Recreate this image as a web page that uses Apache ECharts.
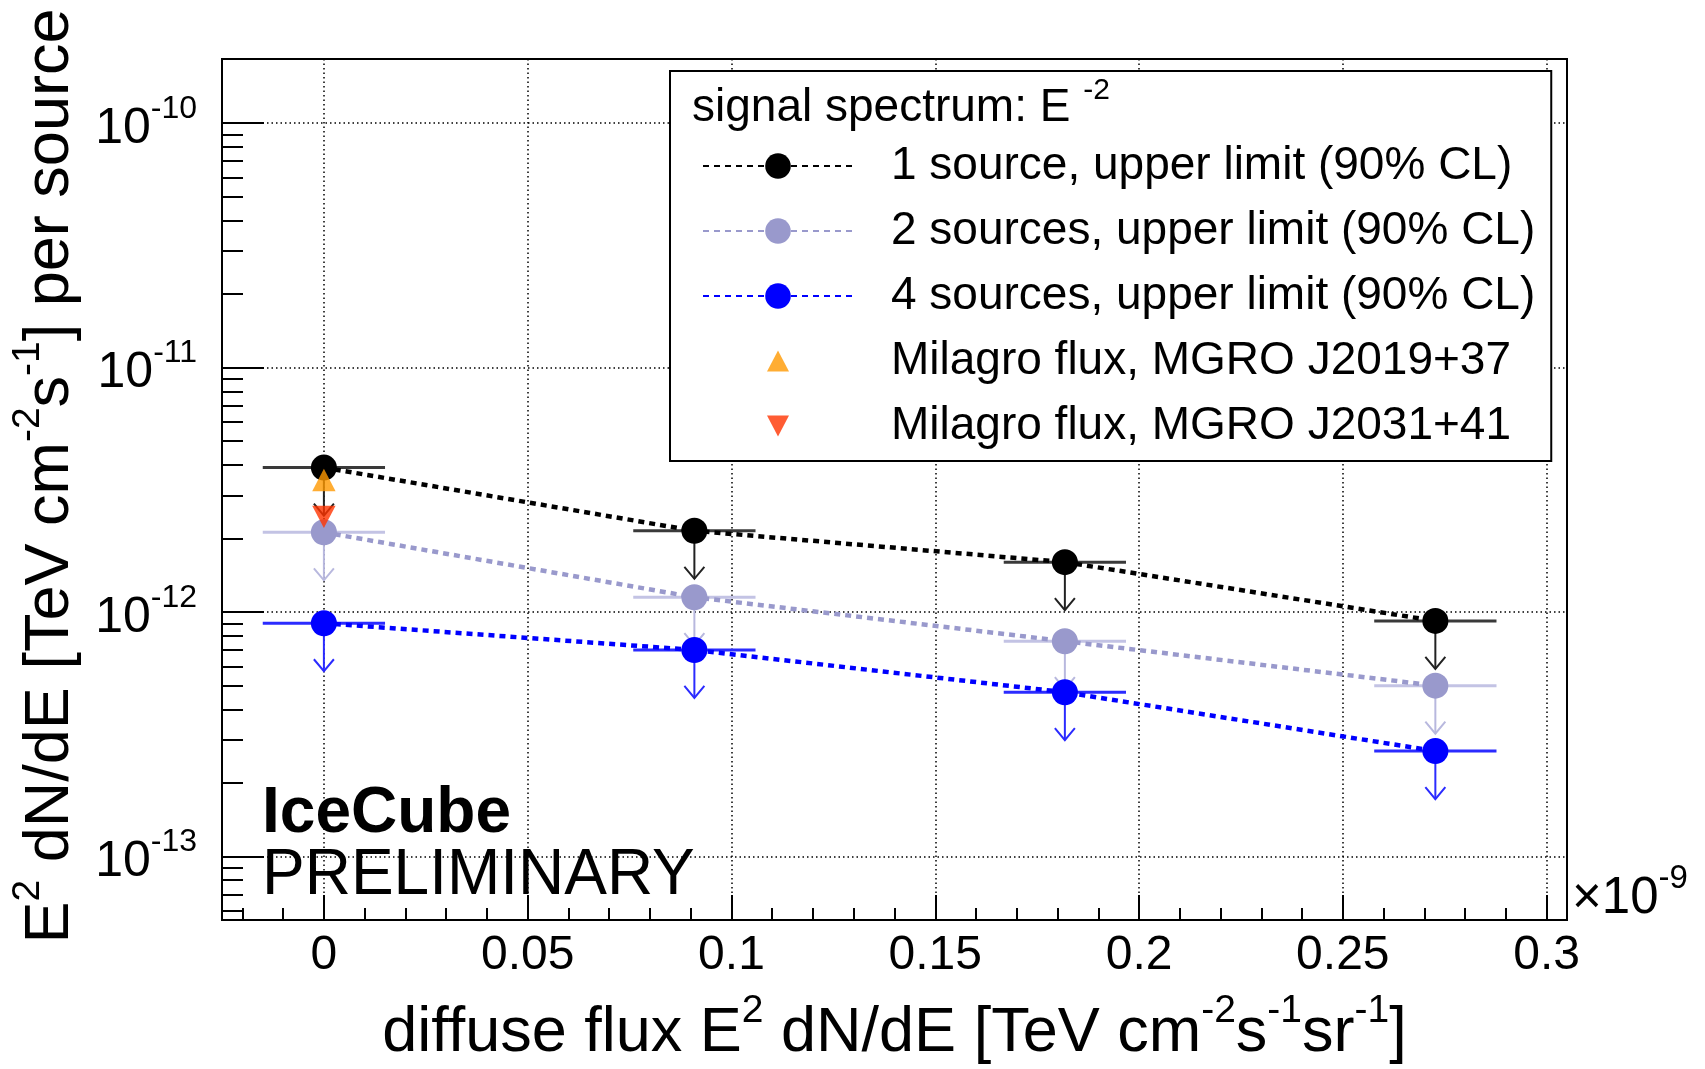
<!DOCTYPE html>
<html>
<head>
<meta charset="utf-8">
<script src="https://cdn.jsdelivr.net/npm/echarts@6/dist/echarts.min.js"></script>
<style>
  html, body { margin: 0; padding: 0; background: #fff; }
  #chart { width: 1705px; height: 1069px; }
</style>
</head>
<body>
<div id="chart"></div>
<script>
// Diffuse flux (units of 1e-9 TeV cm^-2 s^-1 sr^-1) and half bin widths
const diffuseFlux = [0, 0.0909, 0.1818, 0.2727];
const diffuseHalfWidth = [0.015, 0.015, 0.015, 0.015];

// 90% CL upper limits on E^2 dN/dE per source [TeV cm^-2 s^-1]
const limit1Source  = [3.9e-12, 2.15e-12, 1.60e-12, 0.92e-12];
const limit2Sources = [2.12e-12, 1.15e-12, 0.76e-12, 0.50e-12];
const limit4Sources = [0.90e-12, 0.70e-12, 0.47e-12, 0.27e-12];

// Milagro fluxes, drawn at zero diffuse flux
const milagroX = [0];
const milagroJ2019 = [3.47e-12];
const milagroJ2031 = [2.45e-12];

// Axis ticks
const xMajorTicks = [0, 0.05, 0.1, 0.15, 0.2, 0.25, 0.3];
const yMajorTicks = [1e-13, 1e-12, 1e-11, 1e-10];

const X_MIN = -0.025, X_MAX = 0.305;
const Y_MIN = 5.5e-14, Y_MAX = 1.83e-10;

const xMinorTicks = [];
for (let i = -2; i <= 30; i++) {
  if (i % 5 !== 0) xMinorTicks.push(+(i * 0.01).toFixed(2));
}
const yMinorTicks = [];
for (let d = -14; d <= -10; d++) {
  for (let k = 2; k <= 9; k++) {
    const v = +(k * Math.pow(10, d)).toPrecision(3);
    if (v > Y_MIN && v < Y_MAX) yMinorTicks.push(v);
  }
}

const FONT = '"Liberation Sans", Arial, Helvetica, sans-serif';

const NAME_1 = '1 source, upper limit (90% CL)';
const NAME_2 = '2 sources, upper limit (90% CL)';
const NAME_4 = '4 sources, upper limit (90% CL)';
const NAME_J2019 = 'Milagro flux, MGRO J2019+37';
const NAME_J2031 = 'Milagro flux, MGRO J2031+41';

// triangle markers padded inside a square box so the legend icon keeps them small
const TRI_UP = 'path://M0,0 M32,32 M5,26.5 L27,26.5 L16,5.5 Z';
const TRI_DOWN = 'path://M0,0 M32,32 M5,5.5 L27,5.5 L16,26.5 Z';

function pairs(xs, ys) { return xs.map((x, i) => [x, ys[i]]); }

function limitLine(name, ys, color) {
  return {
    name, type: 'line', xAxisIndex: 0, yAxisIndex: 0, z: 3,
    data: pairs(diffuseFlux, ys),
    symbol: 'circle', symbolSize: 26,
    itemStyle: { color },
    lineStyle: { color, width: 4.5, type: [6, 5] },
    animation: false, silent: true
  };
}

// horizontal bin bar plus downward arrow marking an upper limit
function limitBars(ys, barColor, arrowColor) {
  return {
    type: 'custom', xAxisIndex: 0, yAxisIndex: 0, z: 2, silent: true, animation: false,
    data: diffuseFlux.map((x, i) => [x, ys[i], diffuseHalfWidth[i]]),
    renderItem(params, api) {
      const x = api.value(0), y = api.value(1), hw = api.value(2);
      const p = api.coord([x, y]);
      const pl = api.coord([x - hw, y]);
      const pr = api.coord([x + hw, y]);
      const len = 48, head = 12, half = 10;
      return {
        type: 'group',
        children: [
          { type: 'line', shape: { x1: pl[0], y1: p[1], x2: pr[0], y2: p[1] },
            style: { stroke: barColor, lineWidth: 3 } },
          { type: 'line', shape: { x1: p[0], y1: p[1], x2: p[0], y2: p[1] + len },
            style: { stroke: arrowColor, lineWidth: 2 } },
          { type: 'polyline',
            shape: { points: [[p[0] - half, p[1] + len - head], [p[0], p[1] + len], [p[0] + half, p[1] + len - head]] },
            style: { stroke: arrowColor, lineWidth: 2, fill: null } }
        ]
      };
    }
  };
}

function milagro(name, ys, symbol, color) {
  return {
    name, type: 'scatter', xAxisIndex: 0, yAxisIndex: 0, z: 4,
    data: pairs(milagroX, ys),
    symbol, symbolSize: 34,
    itemStyle: { color },
    animation: false, silent: true
  };
}

const dotted = { color: '#000', width: 1.5, type: [1.5, 3] };

const option = {
  backgroundColor: '#fff',
  animation: false,
  grid: {
    left: 222, top: 59, width: 1345, height: 861,
    show: true, borderColor: '#000', borderWidth: 2, backgroundColor: '#fff',
    containLabel: false, outerBoundsMode: 'none'
  },
  xAxis: [
    {
      type: 'value', position: 'bottom', min: X_MIN, max: X_MAX,
      axisLine: { show: true, onZero: false, lineStyle: { color: '#000', width: 2 } },
      axisTick: { show: true, inside: true, length: 25, customValues: xMajorTicks,
                  lineStyle: { color: '#000', width: 2 } },
      axisLabel: { show: true, customValues: xMajorTicks, margin: 12,
                   fontFamily: FONT, fontSize: 48, lineHeight: 48, color: '#000',
                   formatter: v => String(+(+v).toFixed(2)) },
      splitLine: { show: true, lineStyle: dotted }
    },
    {
      type: 'value', position: 'bottom', min: X_MIN, max: X_MAX,
      axisLine: { show: false, onZero: false },
      axisTick: { show: true, inside: true, length: 12, customValues: xMinorTicks,
                  lineStyle: { color: '#000', width: 2 } },
      axisLabel: { show: false },
      splitLine: { show: false }
    }
  ],
  yAxis: [
    {
      type: 'log', logBase: 10, position: 'left', min: Y_MIN, max: Y_MAX,
      axisLine: { show: true, onZero: false, lineStyle: { color: '#000', width: 2 } },
      axisTick: { show: true, inside: true, length: 42, customValues: yMajorTicks,
                  lineStyle: { color: '#000', width: 2 } },
      axisLabel: {
        show: true, customValues: yMajorTicks, margin: 25, padding: [12, 0, 0, 0],
        formatter: v => '{b|10}{s|' + Math.round(Math.log10(v)) + '}',
        rich: {
          b: { fontFamily: FONT, fontSize: 50, lineHeight: 72, color: '#000' },
          s: { fontFamily: FONT, fontSize: 32, lineHeight: 36, verticalAlign: 'top', color: '#000' }
        }
      },
      splitLine: { show: true, lineStyle: dotted }
    },
    {
      type: 'log', logBase: 10, position: 'left', min: Y_MIN, max: Y_MAX,
      axisLine: { show: false, onZero: false },
      axisTick: { show: true, inside: true, length: 21, customValues: yMinorTicks,
                  lineStyle: { color: '#000', width: 2 } },
      axisLabel: { show: false },
      splitLine: { show: false }
    }
  ],
  legend: {
    orient: 'vertical', left: 670, top: 71,
    padding: [70, 16, 10, 32],
    borderColor: '#000', borderWidth: 2, backgroundColor: '#fff',
    itemWidth: 150, itemHeight: 32, itemGap: 15,
    selectedMode: false, z: 10,
    textStyle: { fontFamily: FONT, fontSize: 46, lineHeight: 50, color: '#000', padding: [0, 0, 0, 33] },
    data: [NAME_1, NAME_2, NAME_4, NAME_J2019, NAME_J2031]
  },
  graphic: {
    elements: [
      { // legend header
        type: 'text', left: 692, top: 76, z: 100, silent: true,
        style: {
          text: '{m|signal spectrum: E }{s|-2}',
          rich: {
            m: { fontFamily: FONT, fontSize: 46, lineHeight: 64, fill: '#000' },
            s: { fontFamily: FONT, fontSize: 30, lineHeight: 32, verticalAlign: 'top', fill: '#000' }
          }
        }
      },
      { // y axis title
        type: 'text', x: 51, y: 476, rotation: Math.PI / 2, z: 100, silent: true,
        style: {
          text: '{m|E}{s|2}{m| dN/dE [TeV cm}{s|-2}{m|s}{s|-1}{m|] per source}',
          align: 'center', verticalAlign: 'middle',
          rich: {
            m: { fontFamily: FONT, fontSize: 63, lineHeight: 84, fill: '#000' },
            s: { fontFamily: FONT, fontSize: 39, lineHeight: 44, verticalAlign: 'top', fill: '#000' }
          }
        }
      },
      { // x axis title
        type: 'text', x: 894.5, y: 1034, z: 100, silent: true,
        style: {
          text: '{m|diffuse flux E}{s|2}{m| dN/dE [TeV cm}{s|-2}{m|s}{s|-1}{m|sr}{s|-1}{m|]}',
          align: 'center', verticalAlign: 'middle',
          rich: {
            m: { fontFamily: FONT, fontSize: 63, lineHeight: 84, fill: '#000' },
            s: { fontFamily: FONT, fontSize: 39, lineHeight: 44, verticalAlign: 'top', fill: '#000' }
          }
        }
      },
      { // axis multiplier
        type: 'text', x: 1572, y: 899, z: 100, silent: true,
        style: {
          text: '{m|\u00d710}{s|-9}',
          align: 'left', verticalAlign: 'middle',
          rich: {
            m: { fontFamily: FONT, fontSize: 51, lineHeight: 74, fill: '#000' },
            s: { fontFamily: FONT, fontSize: 33, lineHeight: 38, verticalAlign: 'top', fill: '#000' }
          }
        }
      },
      {
        type: 'text', x: 262, y: 814, z: 100, silent: true,
        style: { text: 'IceCube', fontFamily: FONT, fontSize: 64, fontWeight: 'bold',
                 fill: '#000', align: 'left', verticalAlign: 'middle' }
      },
      {
        type: 'text', x: 262, y: 876, z: 100, silent: true,
        style: { text: 'PRELIMINARY', fontFamily: FONT, fontSize: 64,
                 fill: '#000', align: 'left', verticalAlign: 'middle' }
      }
    ]
  },
  series: [
    limitBars(limit1Source, '#3a3a3a', '#222222'),
    limitBars(limit2Sources, '#c3c3e4', '#b8b8de'),
    limitBars(limit4Sources, '#2b2bff', '#2b2bff'),
    limitLine(NAME_1, limit1Source, '#000000'),
    limitLine(NAME_2, limit2Sources, '#9999cc'),
    limitLine(NAME_4, limit4Sources, '#0000ff'),
    milagro(NAME_J2019, milagroJ2019, TRI_UP, '#ff9900'),
    milagro(NAME_J2031, milagroJ2031, TRI_DOWN, '#ff3300')
  ]
};

const chart = echarts.init(document.getElementById('chart'), null, { renderer: 'canvas' });
chart.setOption(option);
</script>
</body>
</html>
